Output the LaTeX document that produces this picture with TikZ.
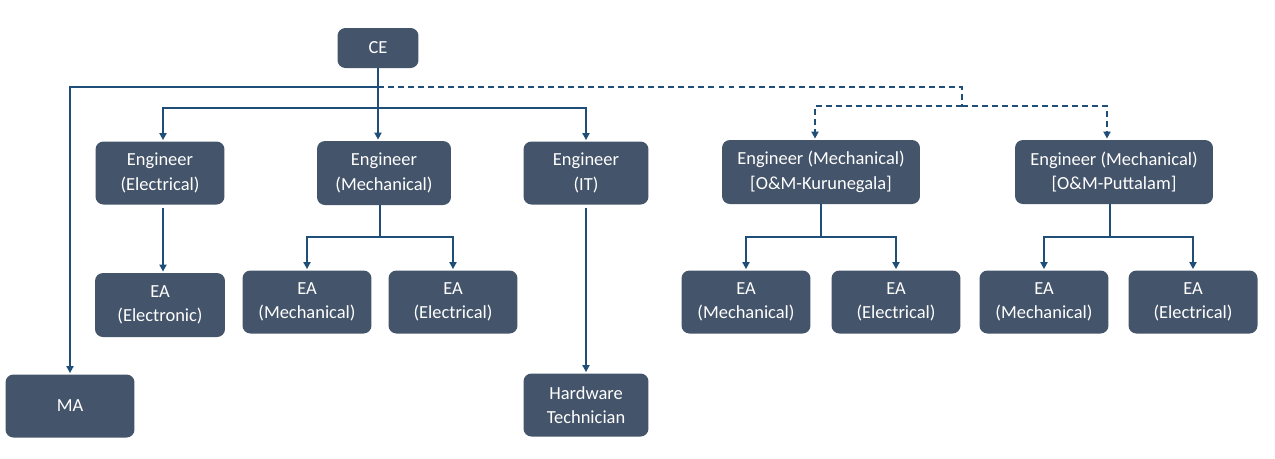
\documentclass[tikz,border=0pt]{standalone}
\usepackage{fontspec}
\setmainfont{Carlito}
\usepackage{tikz}
\usetikzlibrary{positioning,arrows.meta,calc}
\definecolor{boxfill}{HTML}{44546A}
\definecolor{linkblue}{HTML}{1F4E79}
\tikzstyle{box} = [rectangle, rounded corners=4.5pt, fill=boxfill, text=white, align=center, inner sep=2pt, minimum width=2.58cm, minimum height=1.26cm, font=\fontsize{10.5}{14}\selectfont]
\tikzstyle{wide} = [box, minimum width=3.96cm, minimum height=1.28cm]
\tikzstyle{link} = [draw=linkblue, line width=1.1pt]
\tikzstyle{arrow} = [link, -{Triangle[length=4pt,width=4pt]}, shorten >=0.6pt]
\tikzstyle{dlink} = [link, dash pattern=on 3.4pt off 2.3pt]

\begin{document}
\begin{tikzpicture}[x=0.02cm, y=-0.02cm]
    \useasboundingbox (0,0) rectangle (1275,458);
    % top
    \node (ce) [box, minimum width=1.62cm, minimum height=0.8cm] at (378,48) {CE};
    \coordinate (top) at (378,87);
    \coordinate (mid) at (378,108);
    \coordinate (dtop) at (962,87);
    \coordinate (dmid) at (962,106);
    % engineers
    \node (engel) [box] at (160,173) {Engineer\\(Electrical)};
    \node (engm) [box, minimum width=2.68cm, minimum height=1.28cm] at (384,173) {Engineer\\(Mechanical)};
    \node (engit) [box, minimum width=2.5cm] at (586,173) {Engineer\\(IT)};
    \node (engk) [wide] at (821,172) {Engineer (Mechanical)\\{[O\&M-Kurunegala]}};
    \node (engp) [wide] at (1114,172) {Engineer (Mechanical)\\{[O\&M-Puttalam]}};
    % assistants
    \node (eael) [box, minimum width=2.6cm, minimum height=1.28cm] at (160,305) {EA\\(Electronic)};
    \node (eamm) [box] at (307,302) {EA\\(Mechanical)};
    \node (eame) [box] at (453,302) {EA\\(Electrical)};
    \node (eakm) [box] at (746,302) {EA\\(Mechanical)};
    \node (eake) [box] at (896,302) {EA\\(Electrical)};
    \node (eapm) [box] at (1044,302) {EA\\(Mechanical)};
    \node (eape) [box] at (1193,302) {EA\\(Electrical)};
    \node (ma) [box] at (70,406) {MA};
    \node (hw) [box, minimum width=2.5cm] at (586,405) {Hardware\\Technician};

    \draw[link] (ce.south) -- (top);
    \draw[arrow] (ce.south) -- (ce.south |- engm.north);
    \draw[arrow] (top) -| (ma.north);
    \draw[arrow] (mid) -| ($(engel.north)+(3,0)$);
    \draw[arrow] (mid) -| (engit.north);
    \draw[dlink] (top) -- (dtop) -- (dmid);
    \draw[dlink, -{Triangle[length=4pt,width=4pt]}, shorten >=0.6pt] (dmid) -| ($(engk.north)+(-6,0)$);
    \draw[dlink, -{Triangle[length=4pt,width=4pt]}, shorten >=0.6pt] (dmid) -| ($(engp.north)+(-7,0)$);

    \draw[arrow, shorten <=2pt] ($(engel.south)+(3,0)$) -- ($(eael.north)+(3,0)$);
    \draw[arrow, shorten <=2pt] (engit.south) -- (hw.north);

    \draw[link] ($(engm.south)+(-4,0)$) -- ++(0,32) coordinate (mj);
    \draw[arrow] (mj) -| (eamm.north);
    \draw[arrow] (mj) -| (eame.north);
    \draw[link] (engk.south) -- ++(0,33) coordinate (kj);
    \draw[arrow] (kj) -| (eakm.north);
    \draw[arrow] (kj) -| (eake.north);
    \draw[link] ($(engp.south)+(-4,0)$) -- ++(0,33) coordinate (pj);
    \draw[arrow] (pj) -| (eapm.north);
    \draw[arrow] (pj) -| (eape.north);
\end{tikzpicture}
\end{document}
